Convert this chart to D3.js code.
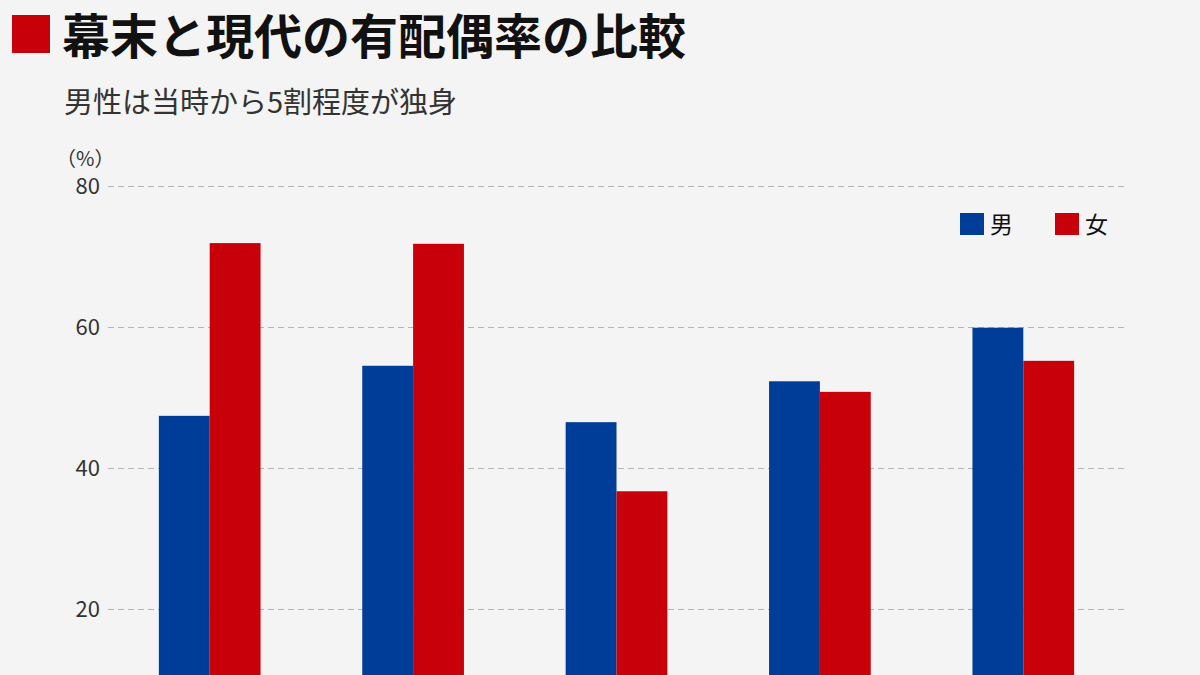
<!DOCTYPE html>
<html><head><meta charset="utf-8">
<script src="https://cdn.jsdelivr.net/npm/d3@7"></script>
<style>
body{margin:0;background:#f4f4f4;font-family:"Noto Sans CJK JP","Noto Sans",sans-serif;}
</style></head><body>
<svg id="chart" width="1200" height="675"></svg>
<script>
// Data (x-axis labels are cropped off in the reference)
const categories = ['1', '2', '3', '4', '5'];
const seriesNames = ['男', '女'];
const maleValues = [47.4, 54.5, 46.5, 52.3, 59.9];
const femaleValues = [71.9, 71.8, 36.7, 50.8, 55.2];
const yTicks = [20, 40, 60, 80];
const colors = ['#003d99', '#c8000a'];

const svg = d3.select('#chart');
svg.append('rect').attr('width', 1200).attr('height', 675).attr('fill', '#f4f4f4');

// Title
svg.append('rect').attr('x', 12).attr('y', 15).attr('width', 38).attr('height', 38).attr('fill', colors[1]);
svg.append('text').attr('x', 62).attr('y', 54)
    .style('font-size', '48px').style('font-weight', 'bold').style('fill', '#111')
    .text('幕末と現代の有配偶率の比較');
svg.append('text').attr('x', 64).attr('y', 113)
    .style('font-size', '29px').style('fill', '#333')
    .text('男性は当時から5割程度が独身');
svg.append('text').attr('x', 56).attr('y', 166)
    .style('font-size', '20px').style('fill', '#333')
    .text('（%）');

const x = d3.scaleBand().domain(categories).range([108, 1125]).paddingInner(0.5).paddingOuter(0.25);
const xSub = d3.scaleBand().domain(seriesNames).range([0, x.bandwidth()]);
const y = d3.scaleLinear().domain([0, 80]).range([750, 186]);

// Grid
const grid = svg.append('g')
    .attr('transform', 'translate(108,0)')
    .call(d3.axisLeft(y).tickValues(yTicks).tickSize(-1017).tickFormat(''));
grid.select('.domain').remove();
grid.selectAll('line').attr('stroke', '#b4b4b4').attr('stroke-dasharray', '6,4');

// Y axis labels
const yAxis = svg.append('g')
    .attr('transform', 'translate(100,0)')
    .call(d3.axisLeft(y).tickValues(yTicks).tickSize(0).tickPadding(0));
yAxis.select('.domain').remove();
yAxis.selectAll('text').style('font-size', '22px').style('fill', '#333')
    .style('font-family', '"Noto Sans CJK JP",sans-serif');

// Bars
const data = categories.map((c, i) => ({c, vals: [maleValues[i], femaleValues[i]]}));
const groups = svg.append('g').selectAll('g').data(data).join('g')
    .attr('transform', d => `translate(${x(d.c)},0)`);
groups.selectAll('rect').data(d => d.vals.map((v, j) => ({s: seriesNames[j], v, j})))
    .join('rect')
    .attr('x', d => xSub(d.s))
    .attr('width', xSub.bandwidth())
    .attr('y', d => y(d.v))
    .attr('height', d => y(0) - y(d.v))
    .attr('fill', d => colors[d.j]);

// Legend
const legend = svg.append('g').selectAll('g').data(seriesNames).join('g')
    .attr('transform', (d, i) => `translate(${960 + i * 95},213)`);
legend.append('rect').attr('width', 24).attr('height', 22).attr('fill', (d, i) => colors[i]);
legend.append('text').attr('x', 30).attr('y', 20)
    .style('font-size', '23px').style('fill', '#111').text(d => d);
</script>
</body></html>
